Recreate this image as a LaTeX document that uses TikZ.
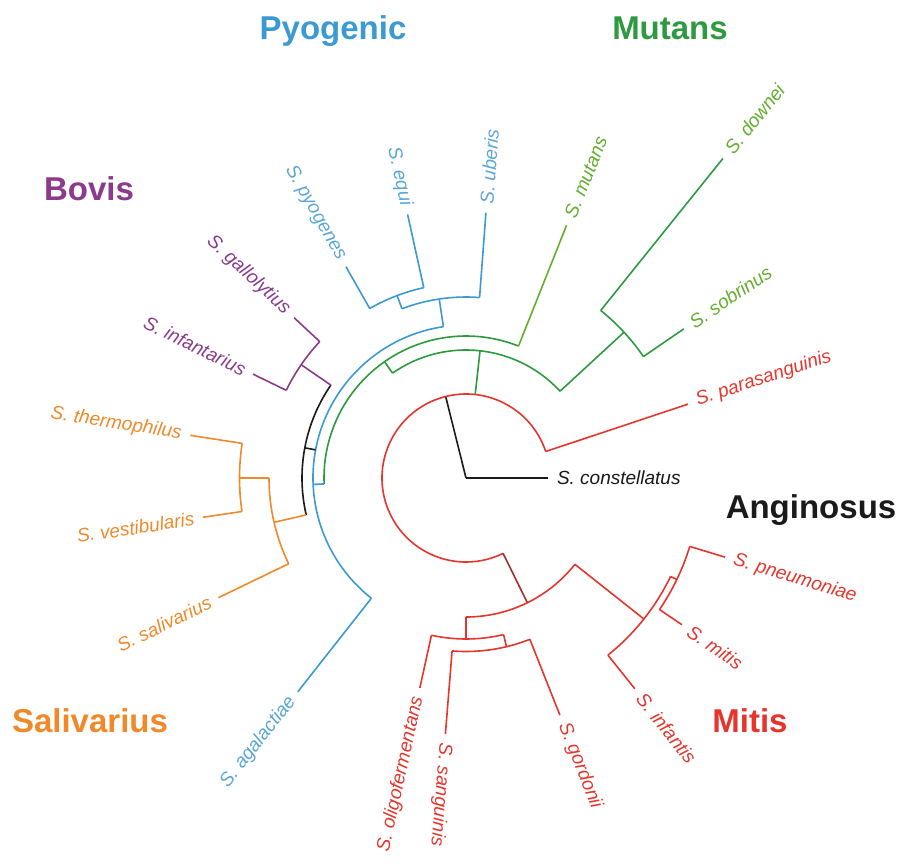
\documentclass[tikz,border=0pt]{standalone}
\usepackage{fontspec}
\setmainfont{Liberation Sans}
\definecolor{pyo}{HTML}{3B9AD2}
\definecolor{pyoleaf}{HTML}{5AA6D8}
\definecolor{mut}{HTML}{2E9A3F}
\definecolor{mutleaf}{HTML}{62AF2F}
\definecolor{bov}{HTML}{8B3A8C}
\definecolor{sal}{HTML}{F0892A}
\definecolor{mit}{HTML}{E5362D}
\definecolor{mitdark}{HTML}{A0302B}
\definecolor{ang}{HTML}{1A1A1A}
\begin{document}
\begin{tikzpicture}[x=1pt, y=1pt, line width=1.6pt,
	leaf/.style={font=\itshape\fontsize{19}{19}\selectfont, inner xsep=9pt, inner ysep=0pt, outer sep=0pt},
	rgt/.style={leaf, anchor=west}, lft/.style={leaf, anchor=east},
	clade/.style={font=\bfseries\fontsize{33}{33}\selectfont, anchor=base}]
	\useasboundingbox (-466,-385) rectangle (435,478);
	\coordinate (root) at (0,0);
	\coordinate (A) at (104:84);
	\coordinate (A1) at (18.4:84);
	\coordinate (A2) at (296.2:84);
	\coordinate (Am) at (83.7:84);
	\draw[ang] (root) -- (A);
	\draw[mit] (A1) arc[start angle=18.4, end angle=296.2, radius=84];
	\node[rgt, ang] (con) at (0:82) {S. constellatus};
	\draw[ang] (root) -- (con.west);
	\node[rgt, rotate=18.4, mit] (par) at (18.4:234) {S. parasanguinis};
	\draw[mit] (A1) -- (par.west);

	\coordinate (H) at (83.7:128);
	\coordinate (H1) at (42.7:128);
	\coordinate (H2) at (125:128);
	\draw[mut] (Am) -- (H);
	\draw[mut] (H1) arc[start angle=42.7, end angle=125, radius=128];
	\coordinate (K) at (42.7:215);
	\coordinate (K1) at (34.4:215);
	\coordinate (K2) at (51.2:215);
	\draw[mut] (H1) -- (K);
	\draw[mut] (K1) arc[start angle=34.4, end angle=51.2, radius=215];
	\node[rgt, rotate=34.4, mutleaf] (sob) at (34.4:264) {S. sobrinus};
	\node[rgt, rotate=51.2, mutleaf] (dow) at (51.2:410) {S. downei};
	\draw[mut] (K1) -- (sob.west);
	\draw[mut] (K2) -- (dow.west);
	\coordinate (J) at (125:142);
	\coordinate (J1) at (68.3:142);
	\coordinate (J2) at (182.4:142);
	\draw[mut] (H2) -- (J);
	\draw[mut] (J1) arc[start angle=68.3, end angle=182.4, radius=142];
	\node[rgt, rotate=68.3, mutleaf] (mts) at (68.3:272) {S. mutans};
	\draw[mutleaf] (J1) -- (mts.west);

	\coordinate (L) at (182.4:153);
	\coordinate (L1) at (98.5:153);
	\coordinate (L2) at (231.8:153);
	\coordinate (Lm) at (169.4:153);
	\draw[pyo] (J2) -- (L);
	\draw[pyo] (L1) arc[start angle=98.5, end angle=231.8, radius=153];
	\coordinate (M) at (98.5:181);
	\coordinate (M1) at (85.7:181);
	\coordinate (M2) at (110.7:181);
	\draw[pyo] (L1) -- (M);
	\draw[pyo] (M1) arc[start angle=85.7, end angle=110.7, radius=181];
	\node[rgt, rotate=85.7, pyoleaf] (ube) at (85.7:266) {S. uberis};
	\draw[pyo] (M1) -- (ube.west);
	\coordinate (S) at (110.7:195);
	\coordinate (S1) at (102.5:195);
	\coordinate (S2) at (119.6:195);
	\draw[pyo] (M2) -- (S);
	\draw[pyo] (S1) arc[start angle=102.5, end angle=119.6, radius=195];
	\node[lft, rotate=-77.5, pyoleaf] (equ) at (102.5:270) {S. equi};
	\node[lft, rotate=-60.4, pyoleaf] (pyg) at (119.6:243) {S. pyogenes};
	\draw[pyo] (S1) -- (equ.east);
	\draw[pyo] (S2) -- (pyg.east);
	\node[lft, rotate=51.8, pyoleaf] (aga) at (231.8:272) {S. agalactiae};
	\draw[pyo] (L2) -- (aga.east);

	\coordinate (N) at (169.4:164);
	\coordinate (N1) at (145.5:164);
	\coordinate (N2) at (193:164);
	\draw[ang] (Lm) -- (N);
	\draw[ang] (N1) arc[start angle=145.5, end angle=193, radius=164];
	\coordinate (O) at (145.5:200);
	\coordinate (O1) at (137:200);
	\coordinate (O2) at (154:200);
	\draw[bov] (N1) -- (O);
	\draw[bov] (O1) arc[start angle=137, end angle=154, radius=200];
	\node[lft, rotate=-43, bov] (gal) at (137:235) {S. gallolytius};
	\node[lft, rotate=-26, bov] (ift) at (154:237) {S. infantarius};
	\draw[bov] (O1) -- (gal.east);
	\draw[bov] (O2) -- (ift.east);
	\coordinate (P) at (193:197);
	\coordinate (P1) at (180:197);
	\coordinate (P2) at (205.8:197);
	\draw[sal] (N2) -- (P);
	\draw[sal] (P1) arc[start angle=180, end angle=205.8, radius=197];
	\coordinate (Q) at (180:226.5);
	\coordinate (Q1) at (171.2:226.5);
	\coordinate (Q2) at (188.5:226.5);
	\draw[sal] (P1) -- (Q);
	\draw[sal] (Q1) arc[start angle=171.2, end angle=188.5, radius=226.5];
	\node[lft, rotate=-8.8, sal] (the) at (171.2:279) {S. thermophilus};
	\node[lft, rotate=8.5, sal] (ves) at (188.5:266) {S. vestibularis};
	\node[lft, rotate=25.8, sal] (sav) at (205.8:275) {S. salivarius};
	\draw[sal] (Q1) -- (the.east);
	\draw[sal] (Q2) -- (ves.east);
	\draw[sal] (P2) -- (sav.east);

	\coordinate (B) at (296.2:139);
	\coordinate (B1) at (270:139);
	\coordinate (B2) at (321.6:139);
	\draw[mitdark] (A2) -- (B);
	\draw[mit] (B1) arc[start angle=270, end angle=321.6, radius=139];
	\coordinate (D) at (270:161);
	\coordinate (D1) at (257.6:161);
	\coordinate (D2) at (283.5:161);
	\draw[mit] (B1) -- (D);
	\draw[mit] (D1) arc[start angle=257.6, end angle=283.5, radius=161];
	\node[lft, rotate=77.6, mit] (oli) at (257.6:215) {S. oligofermentans};
	\draw[mit] (D1) -- (oli.east);
	\coordinate (E) at (283.5:173.5);
	\coordinate (E1) at (265.4:173.5);
	\coordinate (E2) at (291.6:173.5);
	\draw[mit] (D2) -- (E);
	\draw[mit] (E1) arc[start angle=265.4, end angle=291.6, radius=173.5];
	\node[rgt, rotate=-94.6, mit] (san) at (265.4:257) {S. sanguinis};
	\node[rgt, rotate=-68.4, mit] (gor) at (291.6:255) {S. gordonii};
	\draw[mit] (E1) -- (san.west);
	\draw[mit] (E2) -- (gor.west);
	\coordinate (F) at (321.6:227);
	\coordinate (F1) at (308.7:227);
	\coordinate (F2) at (334.3:227);
	\draw[mit] (B2) -- (F);
	\draw[mit] (F1) arc[start angle=308.7, end angle=334.3, radius=227];
	\node[rgt, rotate=-51.3, mit] (inf) at (308.7:270) {S. infantis};
	\draw[mit] (F1) -- (inf.west);
	\coordinate (G) at (334.3:234);
	\coordinate (G1) at (325.8:234);
	\coordinate (G2) at (343:234);
	\draw[mit] (F2) -- (G);
	\draw[mit] (G1) arc[start angle=325.8, end angle=343, radius=234];
	\node[rgt, rotate=-34.2, mit] (mis) at (325.8:261) {S. mitis};
	\node[rgt, rotate=-17, mit] (pne) at (343:271) {S. pneumoniae};
	\draw[mit] (G1) -- (mis.west);
	\draw[mit] (G2) -- (pne.west);

	\node[clade, pyo] (tpyo) at (-133,438) {Pyogenic};
	\node[clade, mut] (tmut) at (204,438) {Mutans};
	\node[clade, bov] (tbov) at (-377,278) {Bovis};
	\node[clade, ang] (tang) at (345,-40) {Anginosus};
	\node[clade, sal] (tsal) at (-376,-254) {Salivarius};
	\node[clade, mit] (tmit) at (284,-254) {Mitis};
\end{tikzpicture}
\end{document}
